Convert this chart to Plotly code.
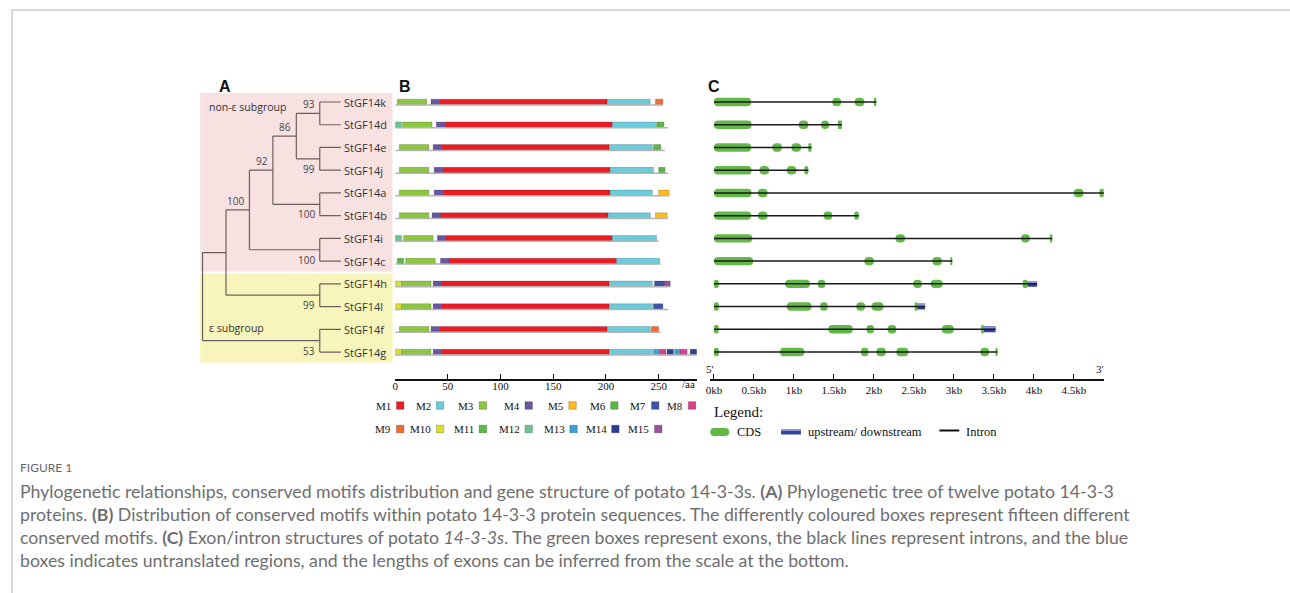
import plotly.graph_objects as go

W, H = 1290, 593

# ---------------- data ----------------
genes = ["StGF14k", "StGF14d", "StGF14e", "StGF14j", "StGF14a", "StGF14b",
         "StGF14i", "StGF14c", "StGF14h", "StGF14l", "StGF14f", "StGF14g"]

# phylogeny (cladogram): internal nodes, their depth, children and bootstrap support
node_name = ["kd", "ej", "n86", "ab", "n92", "ic", "n100a", "hl", "n100b", "fg", "root"]
node_depth = [5, 5, 4, 5, 3, 5, 2, 5, 1, 5, 0]
node_upper = ["StGF14k", "StGF14e", "kd", "StGF14a", "n86", "StGF14i", "n92", "StGF14h", "n100a", "StGF14f", "n100b"]
node_lower = ["StGF14d", "StGF14j", "ej", "StGF14b", "ab", "StGF14c", "ic", "StGF14l", "hl", "StGF14g", "fg"]
node_support = [93, 99, 86, 100, 92, 100, 100, 99, None, 53, None]
leaf_depth = 5.9

# conserved motifs (motif, start aa, end aa) per protein
motif_ids = ["M1", "M2", "M3", "M4", "M5", "M6", "M7", "M8",
             "M9", "M10", "M11", "M12", "M13", "M14", "M15"]
protein_length = [254, 259, 256, 259, 260, 259, 250, 252, 261, 259, 252, 286]
hits_k = [("M3", 2, 30), ("M4", 34, 42), ("M1", 42, 201), ("M2", 201, 242), ("M9", 247, 254)]
hits_d = [("M12", 0, 6), ("M3", 7, 35), ("M4", 39, 47), ("M1", 47, 206), ("M2", 206, 247), ("M6", 248, 255)]
hits_e = [("M3", 4, 32), ("M4", 36, 44), ("M1", 44, 203), ("M2", 203, 244), ("M6", 245, 252)]
hits_j = [("M3", 4, 32), ("M4", 37, 45), ("M1", 45, 204), ("M2", 204, 245), ("M6", 250, 256)]
hits_a = [("M3", 4, 32), ("M4", 37, 45), ("M1", 45, 204), ("M2", 204, 244), ("M5", 250, 260)]
hits_b = [("M3", 4, 32), ("M4", 35, 43), ("M1", 43, 202), ("M2", 202, 242), ("M5", 247, 258)]
hits_i = [("M12", 0, 6), ("M3", 8, 36), ("M4", 40, 48), ("M1", 48, 206), ("M2", 206, 248)]
hits_c = [("M11", 2, 8), ("M3", 10, 38), ("M4", 43, 51), ("M1", 51, 210), ("M2", 210, 251)]
hits_h = [("M10", 0, 6), ("M3", 6, 34), ("M4", 36, 44), ("M1", 44, 203), ("M2", 203, 244),
          ("M7", 246, 255), ("M15", 255, 261)]
hits_l = [("M10", 0, 6), ("M3", 6, 34), ("M4", 36, 44), ("M1", 44, 203), ("M2", 203, 244), ("M7", 245, 254)]
hits_f = [("M3", 4, 32), ("M4", 34, 42), ("M1", 42, 201), ("M2", 201, 242), ("M9", 243, 250)]
hits_g = [("M10", 0, 6), ("M3", 6, 34), ("M4", 36, 44), ("M1", 44, 203), ("M2", 203, 244),
          ("M13", 245, 251), ("M8", 251, 257), ("M14", 258, 264), ("M13", 265, 270),
          ("M8", 270, 277), ("M14", 280, 286)]
motif_hits = [hits_k, hits_d, hits_e, hits_j, hits_a, hits_b,
              hits_i, hits_c, hits_h, hits_l, hits_f, hits_g]

# gene structures in kb: CDS exons (start, end) and untranslated region
exons_k = [(0, 0.465), (1.48, 1.59), (1.76, 1.88), (2.0, 2.03)]
exons_d = [(0, 0.47), (1.06, 1.18), (1.34, 1.44), (1.55, 1.60)]
exons_e = [(0, 0.465), (0.73, 0.85), (0.97, 1.09), (1.18, 1.22)]
exons_j = [(0, 0.47), (0.57, 0.69), (0.91, 1.03), (1.13, 1.18)]
exons_a = [(0, 0.47), (0.55, 0.67), (4.50, 4.62), (4.82, 4.88)]
exons_b = [(0, 0.465), (0.55, 0.67), (1.37, 1.48), (1.755, 1.81)]
exons_i = [(0, 0.48), (2.27, 2.39), (3.84, 3.95), (4.20, 4.23)]
exons_c = [(0, 0.49), (1.88, 2.0), (2.73, 2.85), (2.955, 2.98)]
exons_h = [(0, 0.06), (0.89, 1.20), (1.30, 1.39), (2.49, 2.60), (2.71, 2.86), (3.86, 3.92)]
exons_l = [(0, 0.06), (0.91, 1.22), (1.33, 1.42), (1.78, 1.89), (1.97, 2.12), (2.51, 2.54)]
exons_f = [(0, 0.06), (1.43, 1.735), (1.91, 2.0), (2.17, 2.28), (2.85, 3.0), (3.34, 3.375)]
exons_g = [(0, 0.06), (0.825, 1.13), (1.84, 1.93), (2.03, 2.15), (2.28, 2.43), (3.33, 3.44), (3.52, 3.545)]
gene_exons = [exons_k, exons_d, exons_e, exons_j, exons_a, exons_b,
              exons_i, exons_c, exons_h, exons_l, exons_f, exons_g]
gene_utr = [None, None, None, None, None, None, None, None,
            (3.92, 4.04), (2.54, 2.64), (3.375, 3.52), None]

kb_ticks = [0, 0.5, 1, 1.5, 2, 2.5, 3, 3.5, 4, 4.5]
kb_labels = ["0kb", "0.5kb", "1kb", "1.5kb", "2kb", "2.5kb", "3kb", "3.5kb", "4kb", "4.5kb"]
aa_ticks = [0, 50, 100, 150, 200, 250]

# ---------------- styles ----------------
motif_color = {
    "M1": "#ed1c24", "M2": "#6ccbdb", "M3": "#8dc63f", "M4": "#6a54a4", "M5": "#fdbb1e",
    "M6": "#5cb747", "M7": "#3b55a5", "M8": "#d9418f", "M9": "#f26a2d", "M10": "#dbe02a",
    "M11": "#5aba48", "M12": "#6dc391", "M13": "#3fa0d8", "M14": "#2f3d8f", "M15": "#9b4f9f",
}
SERIF = "Liberation Serif"
SANS = "Open Sans"
CAP = "Lato"
TREE_LINE = "#6e5f5f"
CDS_GREEN = "#63b946"


def px(x):
    return x / W


def py(y):
    return 1 - y / H


fig = go.Figure()

# ---------------- panel A: tree ----------------
ypos = {g: i for i, g in enumerate(genes)}
xdep = {g: leaf_depth for g in genes}
for n, d, a, b in zip(node_name, node_depth, node_upper, node_lower):
    ypos[n] = (ypos[a] + ypos[b]) / 2
    xdep[n] = d

tx, ty = [], []
for n, a, b in zip(node_name, node_upper, node_lower):
    d = xdep[n]
    tx += [d, d, None]
    ty += [ypos[a], ypos[b], None]
    for c in (a, b):
        tx += [d, xdep[c], None]
        ty += [ypos[c], ypos[c], None]
fig.add_trace(go.Scatter(x=tx, y=ty, mode="lines", xaxis="x", yaxis="y",
                         line=dict(color=TREE_LINE, width=1.2), hoverinfo="skip"))

annotations = []
for g in genes:
    annotations.append(dict(x=5.96, y=ypos[g], xref="x", yref="y", text=g, showarrow=False,
                            xanchor="left", yanchor="middle",
                            font=dict(family=SANS, size=11, color="#333333")))
upper_set = set(node_upper)
for n, s in zip(node_name, node_support):
    if s is None:
        continue
    above = n in upper_set
    annotations.append(dict(x=xdep[n], y=ypos[n], xref="x", yref="y", text=str(s),
                            showarrow=False, xanchor="right",
                            yanchor="bottom" if above else "top",
                            xshift=-3, yshift=0 if above else -1,
                            font=dict(family=SANS, size=10, color="#444444")))

# ---------------- panel B: motifs ----------------
bx, by = [], []
for i, L in enumerate(protein_length):
    bx += [0, L, None]
    by += [i + 0.13, i + 0.13, None]
fig.add_trace(go.Scatter(x=bx, y=by, mode="lines", xaxis="x2", yaxis="y",
                         line=dict(color="#b5b5b5", width=1.5), hoverinfo="skip"))
for m in motif_ids:
    ys, bases, lens = [], [], []
    for i, hits in enumerate(motif_hits):
        for mid, s, e in hits:
            if mid == m:
                ys.append(i)
                bases.append(s)
                lens.append(e - s)
    if ys:
        fig.add_trace(go.Bar(y=ys, x=lens, base=bases, orientation="h", xaxis="x2", yaxis="y",
                             width=0.25, marker=dict(color=motif_color[m],
                                                     line=dict(color="rgba(0,0,0,0.25)", width=0.7)),
                             hoverinfo="skip"))

# ---------------- panel C: gene structure ----------------
ix, iy = [], []
for i, ex in enumerate(gene_exons):
    end = gene_utr[i][1] if gene_utr[i] else ex[-1][1]
    ix += [ex[0][0], end, None]
    iy += [i, i, None]
fig.add_trace(go.Scatter(x=ix, y=iy, mode="lines", xaxis="x3", yaxis="y",
                         line=dict(color="#1a1a1a", width=1.5), hoverinfo="skip"))
ey, eb, el = [], [], []
for i, ex in enumerate(gene_exons):
    for s, e in ex:
        ey.append(i)
        eb.append(s)
        el.append(e - s)
fig.add_trace(go.Bar(y=ey, x=el, base=eb, orientation="h", xaxis="x3", yaxis="y", width=0.37,
                     marker=dict(color=CDS_GREEN, cornerradius=4, line=dict(width=0)),
                     hoverinfo="skip"))
uy, ub, ul = [], [], []
for i, u in enumerate(gene_utr):
    if u:
        uy.append(i)
        ub.append(u[0])
        ul.append(u[1] - u[0])
fig.add_trace(go.Bar(y=uy, x=ul, base=ub, orientation="h", xaxis="x3", yaxis="y", width=0.26,
                     marker=dict(color="#34429c", line=dict(width=0)), hoverinfo="skip"))
fig.add_trace(go.Bar(y=[v - 0.07 for v in uy], x=ul, base=ub, orientation="h", xaxis="x3", yaxis="y",
                     width=0.1, marker=dict(color="#8e99d6", line=dict(width=0)), hoverinfo="skip"))

# ---------------- decorations ----------------
shapes = []
# subgroup backgrounds
shapes.append(dict(type="rect", xref="paper", yref="paper", x0=px(196), x1=px(389),
                   y0=py(93), y1=py(271.5), fillcolor="#f8e1e1", line=dict(width=0), layer="below"))
shapes.append(dict(type="rect", xref="paper", yref="paper", x0=px(196), x1=px(389),
                   y0=py(274), y1=py(362.5), fillcolor="#f7f5bb", line=dict(width=0), layer="below"))
# frame
shapes.append(dict(type="line", xref="paper", yref="paper", x0=px(7), x1=1, y0=py(10), y1=py(10),
                   line=dict(color="#cdcdcd", width=1.5)))
shapes.append(dict(type="line", xref="paper", yref="paper", x0=px(7), x1=px(7), y0=py(10), y1=0,
                   line=dict(color="#cdcdcd", width=1.5)))

# panel letters
for letter, x in (("A", 221), ("B", 402), ("C", 712)):
    annotations.append(dict(x=px(x), y=py(86), xref="paper", yref="paper", text=f"<b>{letter}</b>",
                            showarrow=False, xanchor="center", yanchor="middle",
                            font=dict(family="Liberation Sans", size=16, color="#111111")))
annotations.append(dict(x=px(203), y=py(107), xref="paper", yref="paper", text="non-ε subgroup",
                        showarrow=False, xanchor="left", yanchor="middle",
                        font=dict(family=SANS, size=10.5, color="#333333")))
annotations.append(dict(x=px(203), y=py(328), xref="paper", yref="paper", text="ε subgroup",
                        showarrow=False, xanchor="left", yanchor="middle",
                        font=dict(family=SANS, size=10.5, color="#333333")))
annotations.append(dict(x=px(686), y=py(384), xref="paper", yref="paper", text="/aa",
                        showarrow=False, xanchor="center", yanchor="middle",
                        font=dict(family=SERIF, size=11, color="#111111")))
annotations.append(dict(x=px(708), y=py(369), xref="paper", yref="paper", text="5'",
                        showarrow=False, xanchor="center", yanchor="middle",
                        font=dict(family=SERIF, size=11, color="#111111")))
annotations.append(dict(x=px(1099), y=py(369), xref="paper", yref="paper", text="3'",
                        showarrow=False, xanchor="center", yanchor="middle",
                        font=dict(family=SERIF, size=11, color="#111111")))

# motif legend
legend_rows = [motif_ids[:8], motif_ids[8:]]
legend_x = [[393, 433, 476, 522, 566, 608, 649, 686], [393, 433, 476, 522, 567, 609, 652]]
legend_y = [405.5, 429]
for r, ids in enumerate(legend_rows):
    for m, x in zip(ids, legend_x[r]):
        y = legend_y[r]
        shapes.append(dict(type="rect", xref="paper", yref="paper", x0=px(x), x1=px(x + 7.5),
                           y0=py(y - 3.8), y1=py(y + 3.8), fillcolor=motif_color[m],
                           line=dict(color="rgba(0,0,0,0.3)", width=0.7)))
        annotations.append(dict(x=px(x - 3), y=py(y), xref="paper", yref="paper", text=m,
                                showarrow=False, xanchor="right", yanchor="middle",
                                font=dict(family=SERIF, size=11, color="#111111")))


# gene structure legend
def rrect(x0, y0, x1, y1, r):
    return (f"M{px(x0 + r)},{py(y0)} L{px(x1 - r)},{py(y0)} Q{px(x1)},{py(y0)} {px(x1)},{py(y0 + r)} "
            f"L{px(x1)},{py(y1 - r)} Q{px(x1)},{py(y1)} {px(x1 - r)},{py(y1)} "
            f"L{px(x0 + r)},{py(y1)} Q{px(x0)},{py(y1)} {px(x0)},{py(y1 - r)} "
            f"L{px(x0)},{py(y0 + r)} Q{px(x0)},{py(y0)} {px(x0 + r)},{py(y0)} Z")


annotations.append(dict(x=px(710), y=py(412), xref="paper", yref="paper", text="Legend:",
                        showarrow=False, xanchor="left", yanchor="middle",
                        font=dict(family=SERIF, size=15, color="#111111")))
shapes.append(dict(type="path", xref="paper", yref="paper", path=rrect(708, 428, 727, 436, 4),
                   fillcolor=CDS_GREEN, line=dict(width=0)))
shapes.append(dict(type="rect", xref="paper", yref="paper", x0=px(779), x1=px(799),
                   y0=py(429), y1=py(434.5), fillcolor="#34429c", line=dict(width=0)))
shapes.append(dict(type="rect", xref="paper", yref="paper", x0=px(779), x1=px(799),
                   y0=py(429), y1=py(431), fillcolor="#8e99d6", line=dict(width=0)))
shapes.append(dict(type="line", xref="paper", yref="paper", x0=px(938), x1=px(958),
                   y0=py(430.5), y1=py(430.5), line=dict(color="#111111", width=2)))
for text, x in (("CDS", 733), ("upstream/ downstream", 804), ("Intron", 963)):
    annotations.append(dict(x=px(x), y=py(432), xref="paper", yref="paper", text=text,
                            showarrow=False, xanchor="left", yanchor="middle",
                            font=dict(family=SERIF, size=12.5, color="#111111")))

# caption
annotations.append(dict(x=px(13), y=py(467), xref="paper", yref="paper", text="FIGURE 1",
                        showarrow=False, xanchor="left", yanchor="middle",
                        font=dict(family=CAP, size=12, color="#666666")))
caption = [
    "Phylogenetic relationships, conserved motifs distribution and gene structure of potato 14-3-3s. "
    "<b>(A)</b> Phylogenetic tree of twelve potato 14-3-3",
    "proteins. <b>(B)</b> Distribution of conserved motifs within potato 14-3-3 protein sequences. "
    "The differently coloured boxes represent fifteen different",
    "conserved motifs. <b>(C)</b> Exon/intron structures of potato <i>14-3-3s</i>. The green boxes "
    "represent exons, the black lines represent introns, and the blue",
    "boxes indicates untranslated regions, and the lengths of exons can be inferred from the scale at the bottom.",
]
for k, line in enumerate(caption):
    annotations.append(dict(x=px(13), y=py(491 + 23.3 * k), xref="paper", yref="paper", text=line,
                            showarrow=False, xanchor="left", yanchor="middle",
                            font=dict(family=CAP, size=17.7, color="#6e6e6e")))

# ---------------- axes ----------------
row_px0, row_step = 102.0, 22.73
y_top_px, y_bot_px = 90.0, 378.5
yr = [(y_bot_px - row_px0) / row_step, (y_top_px - row_px0) / row_step]

tree_px0, tree_step = 198.3, 23.54
aa_px0, aa_step = 391.7, 1.058
kb_px0, kb_step = 711.7, 80.3

axis_common = dict(showgrid=False, zeroline=False, showline=True, linecolor="#111111", linewidth=1.5,
                   ticks="inside", ticklen=5, tickwidth=1.2, tickcolor="#111111", fixedrange=True)

fig.update_layout(
    width=W, height=H, margin=dict(l=0, r=0, t=0, b=0),
    paper_bgcolor="white", plot_bgcolor="rgba(0,0,0,0)",
    showlegend=False, barmode="overlay", hovermode=False,
    xaxis=dict(domain=[px(196), px(389)], anchor="y", visible=False,
               range=[(196 - tree_px0) / tree_step, (389 - tree_px0) / tree_step], fixedrange=True),
    xaxis2=dict(domain=[px(391.7), px(695)], anchor="y",
                range=[(391.7 - aa_px0) / aa_step, (695 - aa_px0) / aa_step],
                tickmode="array", tickvals=aa_ticks, ticklabelstandoff=-3,
                tickfont=dict(family=SERIF, size=11, color="#111111"), **axis_common),
    xaxis3=dict(domain=[px(708), px(1103)], anchor="y",
                range=[(708 - kb_px0) / kb_step, (1103 - kb_px0) / kb_step],
                tickmode="array", tickvals=kb_ticks, ticktext=kb_labels, ticklabelstandoff=1,
                tickfont=dict(family=SERIF, size=11, color="#111111"), **axis_common),
    yaxis=dict(domain=[py(y_bot_px), py(y_top_px)], range=yr, visible=False, fixedrange=True),
    shapes=shapes, annotations=annotations,
)

fig.write_html("out.html")
